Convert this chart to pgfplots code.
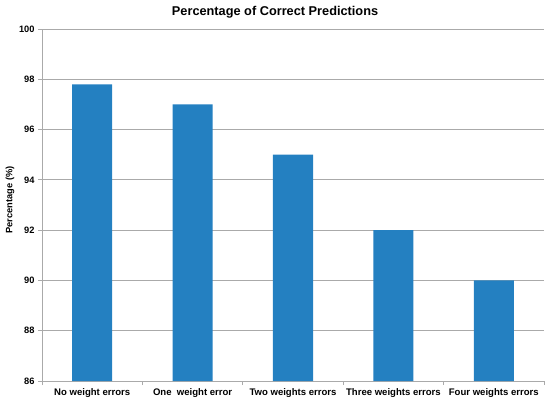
\documentclass[border=0pt]{standalone}
\usepackage{pgfplots}
\pgfplotsset{compat=1.18}
\usepackage{fontspec}
\setmainfont{Liberation Sans}
\definecolor{barblue}{RGB}{36,128,193}
\definecolor{gridgray}{RGB}{170,170,170}
\begin{document}
\begin{tikzpicture}
\useasboundingbox (0,0) rectangle (550bp,403bp);
\begin{axis}[
  at={(42bp,22bp)}, anchor=south west,
  scale only axis, width=502bp, height=352bp,
  xmin=-0.5, xmax=4.5, ymin=86, ymax=100,
  ytick={86,88,...,100},
  xtick={0,1,2,3,4},
  xticklabels={No weight errors,One\ \ weight error,Two weights errors,Three weights errors,Four weights errors},
  minor xtick={-0.5,0.5,1.5,2.5,3.5,4.5},
  major x tick style={draw=none},
  minor tick length=4bp,
  major tick length=4bp,
  tick align=outside,
  tick style={gridgray, line width=0.8pt},
  axis x line*=bottom, axis y line*=left,
  axis line style={gridgray, line width=0.8pt, -},
  ymajorgrids, grid style={gridgray, line width=0.8pt},
  tick label style={font=\fontsize{9.3}{11}\selectfont\bfseries},
  xticklabel style={font=\fontsize{9.6}{11}\selectfont\bfseries},
  /pgf/number format/assume math mode=true,
  ybar, bar width=40bp,
  clip=false,
]
\addplot[fill=barblue, draw=none] coordinates {(0,97.8) (1,97.0) (2,95.0) (3,92.0) (4,90.0)};
\node[font=\fontsize{12.8}{14}\selectfont\bfseries, anchor=center] at ([yshift=17bp]axis description cs:0.4643,1) {Percentage of Correct Predictions};
\node[font=\fontsize{9.3}{11}\selectfont\bfseries, anchor=center, rotate=90] at ([xshift=-32bp,yshift=5bp]axis description cs:0,0.5) {Percentage (\%)};
\end{axis}
\end{tikzpicture}
\end{document}
